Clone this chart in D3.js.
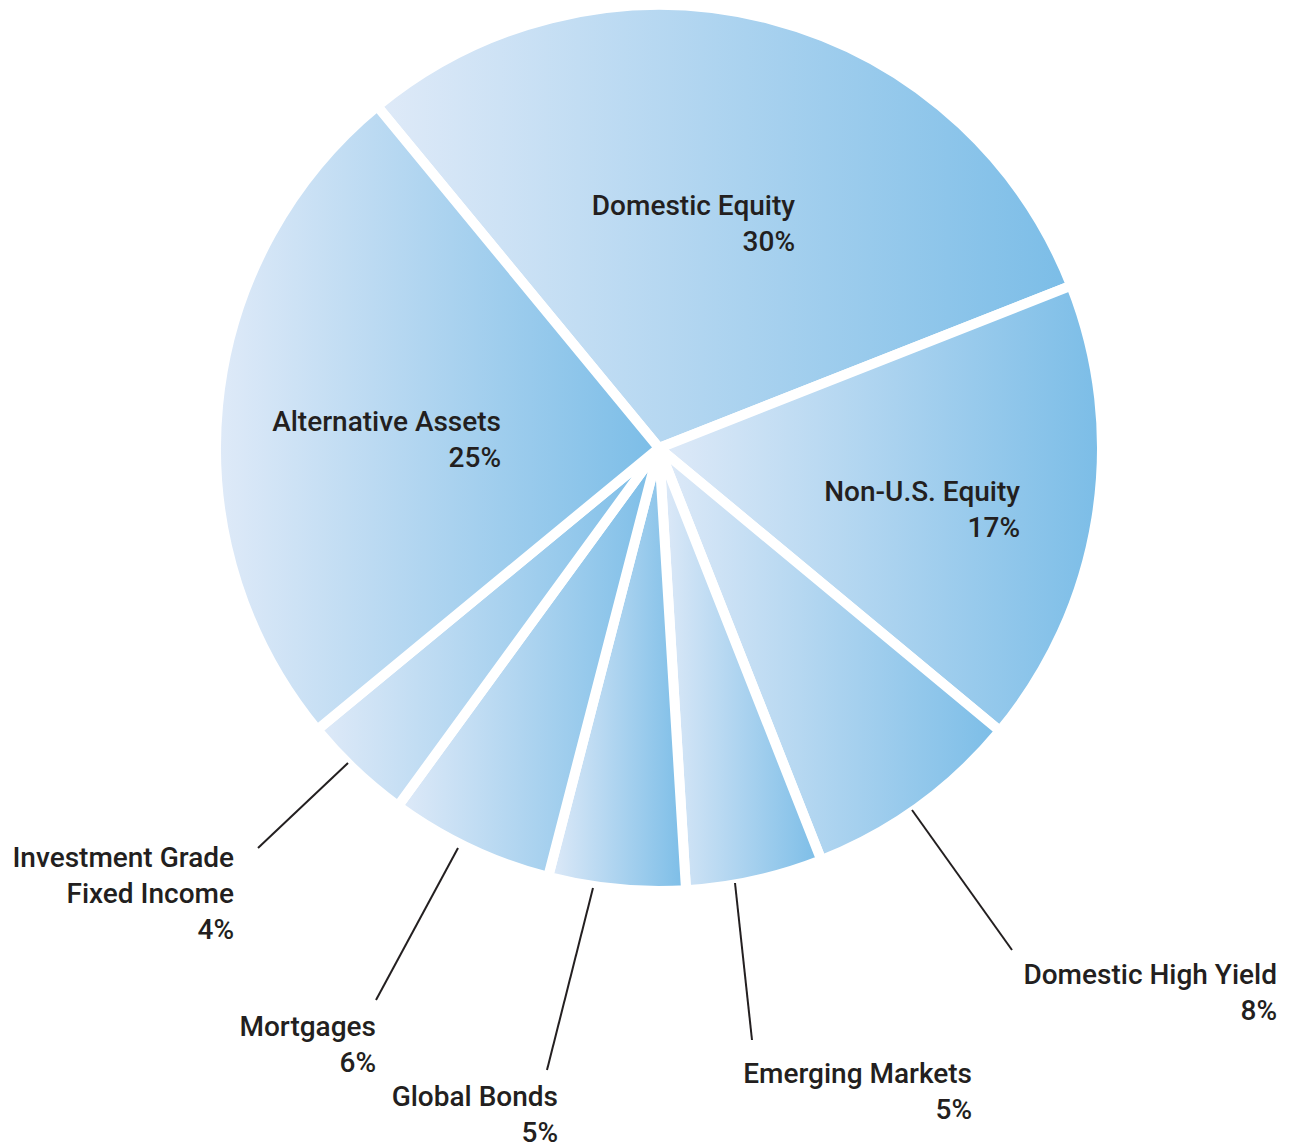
<!DOCTYPE html>
<html>
<head>
<meta charset="utf-8">
<script src="https://cdn.jsdelivr.net/npm/d3@7/dist/d3.min.js"></script>
<style>
  html, body { margin: 0; padding: 0; background: #ffffff; }
  svg { display: block; }
  text { font-family: Roboto, "Liberation Sans", sans-serif; font-weight: 500; fill: #231f20; }
</style>
</head>
<body>
<svg id="chart" width="1291" height="1146"></svg>
<script>
// Asset allocation shares (percent), listed clockwise from the top-left edge
const categories = [
  "Domestic Equity",
  "Non-U.S. Equity",
  "Domestic High Yield",
  "Emerging Markets",
  "Global Bonds",
  "Mortgages",
  "Investment Grade Fixed Income",
  "Alternative Assets"
];
const shares = [30, 17, 8, 5, 5, 6, 4, 25];
const labelLines = [
  ["Domestic Equity"],
  ["Non-U.S. Equity"],
  ["Domestic High Yield"],
  ["Emerging Markets"],
  ["Global Bonds"],
  ["Mortgages"],
  ["Investment Grade", "Fixed Income"],
  ["Alternative Assets"]
];

const W = 1291, H = 1146;
const cx = 659, cy = 448, R = 443;
const deg = Math.PI / 180;

// Label placement: inside slices use an anchor point; outside slices get a leader line
const layout = {
  "Domestic Equity":               { x: 795,  y: 215 },
  "Non-U.S. Equity":               { x: 1020, y: 501 },
  "Alternative Assets":            { x: 501,  y: 431 },
  "Domestic High Yield":           { x: 1277, y: 984,  lead: [[912, 810], [1012, 950]] },
  "Emerging Markets":              { x: 972,  y: 1083, lead: [[735, 883], [752, 1040]] },
  "Global Bonds":                  { x: 558,  y: 1106, lead: [[593, 888], [547, 1070]] },
  "Mortgages":                     { x: 376,  y: 1036, lead: [[458, 848], [376, 1000]] },
  "Investment Grade Fixed Income": { x: 234,  y: 867,  lead: [[348, 763], [258, 848]] }
};
const lineGap = 36;

const data = categories.map((c, i) => ({ name: c, value: shares[i], lines: labelLines[i] }));

const svg = d3.select("#chart");

const pie = d3.pie()
  .value(d => d.value)
  .sort(null)
  .startAngle(-39.5 * deg)
  .endAngle(320.5 * deg);

const arc = d3.arc().innerRadius(0).outerRadius(R);

const arcs = pie(data);

// One horizontal light-to-mid blue gradient per slice, spanning its own bounding box
const defs = svg.append("defs");
arcs.forEach((a, i) => {
  const g = defs.append("linearGradient")
    .attr("id", "grad" + i)
    .attr("x1", "0%").attr("y1", "0%")
    .attr("x2", "100%").attr("y2", "0%");
  g.append("stop").attr("offset", "0%").attr("stop-color", "#dfeaf8");
  g.append("stop").attr("offset", "100%").attr("stop-color", "#7bbde7");
});

const g = svg.append("g").attr("transform", `translate(${cx},${cy})`);

g.selectAll("path.slice")
  .data(arcs)
  .join("path")
  .attr("class", "slice")
  .attr("d", arc)
  .attr("fill", (d, i) => `url(#grad${i})`)
  .attr("stroke", "#ffffff")
  .attr("stroke-width", 10)
  .attr("stroke-linejoin", "miter");

// Leader lines
svg.selectAll("line.leader")
  .data(data.filter(d => layout[d.name].lead))
  .join("line")
  .attr("class", "leader")
  .attr("x1", d => layout[d.name].lead[0][0])
  .attr("y1", d => layout[d.name].lead[0][1])
  .attr("x2", d => layout[d.name].lead[1][0])
  .attr("y2", d => layout[d.name].lead[1][1])
  .attr("stroke", "#231f20")
  .attr("stroke-width", 2);

// Labels: name line(s) then the percentage, right-aligned
const labels = svg.selectAll("text.label")
  .data(data)
  .join("text")
  .attr("class", "label")
  .attr("text-anchor", "end")
  .attr("font-size", 28);

labels.each(function(d) {
  const t = d3.select(this);
  const p = layout[d.name];
  const rows = d.lines.concat([d.value + "%"]);
  rows.forEach((r, k) => {
    t.append("tspan").attr("x", p.x).attr("y", p.y + k * lineGap).text(r);
  });
});
</script>
</body>
</html>
